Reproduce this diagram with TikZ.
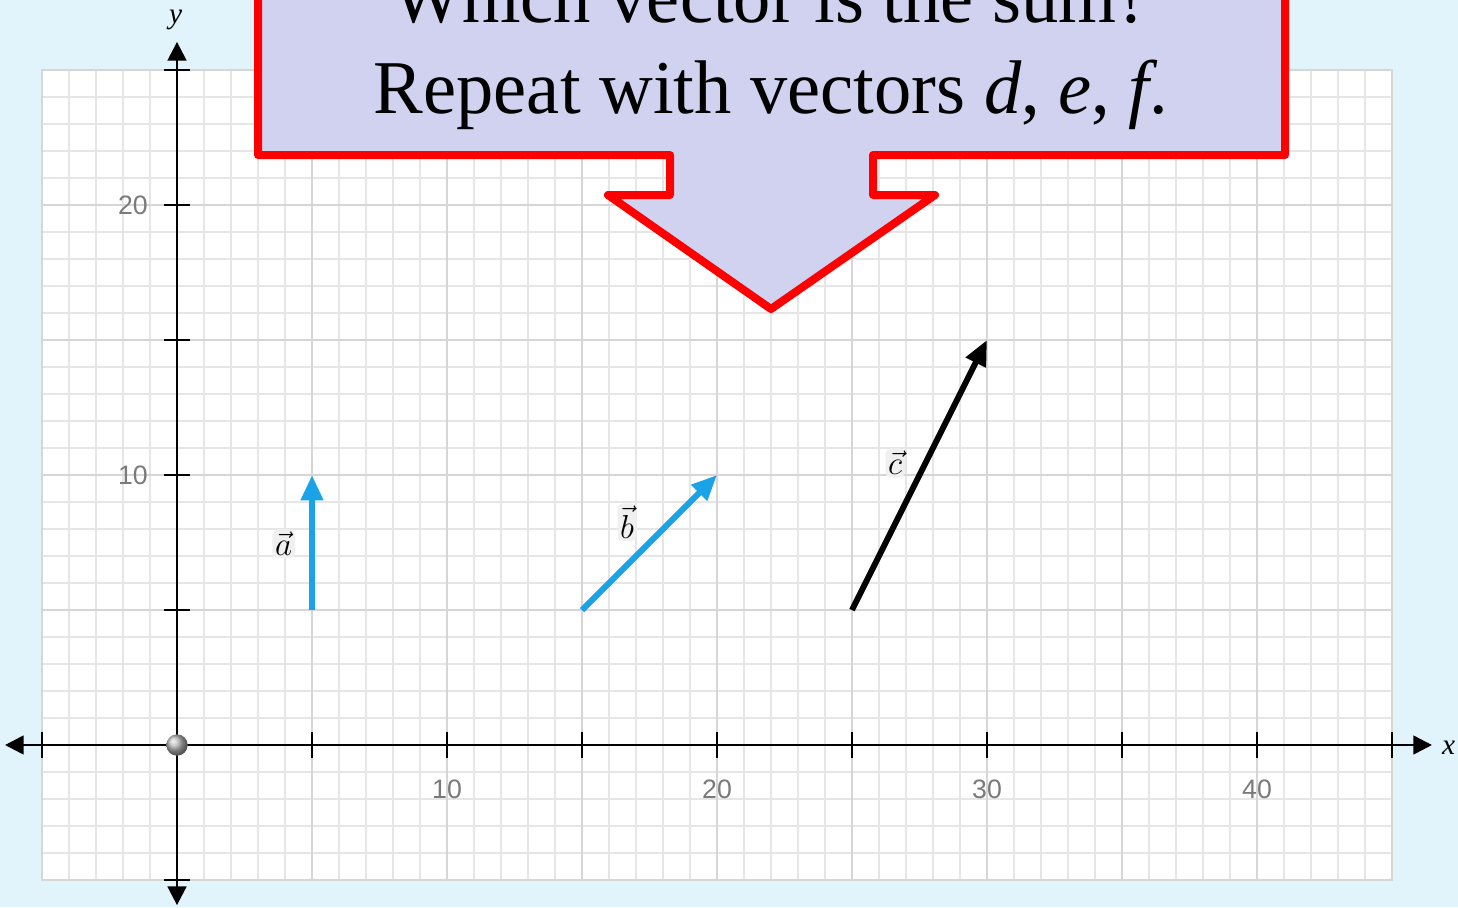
\documentclass[tikz,border=0pt]{standalone}
\usepackage{fontspec}
\setmainfont{Liberation Serif}
\newfontfamily\labfont{Liberation Sans}
\usetikzlibrary{arrows.meta}
\definecolor{bgblue}{HTML}{E1F4FC}
\definecolor{minorgrid}{HTML}{E6E6E6}
\definecolor{majorgrid}{HTML}{D6D6D6}
\definecolor{vecblue}{HTML}{1BA3E8}
\definecolor{calloutfill}{HTML}{D1D1F0}
\definecolor{ticklab}{HTML}{7A7A7A}
\definecolor{labbox}{HTML}{F0F0F0}
\tikzset{
  minorline/.style={draw=minorgrid, line width=1.5pt},
  majorline/.style={draw=majorgrid, line width=2pt},
  axisline/.style={line width=2pt, black, {Triangle[length=14pt,width=14pt]}-{Triangle[length=14pt,width=14pt]}},
  tickline/.style={line width=1.6pt, black},
  vecarrow/.style={line width=4.5pt, -{Triangle[length=19pt,width=16pt]}},
  ticklabel/.style={font=\labfont\fontsize{20}{22}\selectfont, text=ticklab},
  veclabel/.style={fill=labbox, rounded corners=4pt, inner sep=2pt, font=\fontsize{27}{30}\selectfont},
  axislabel/.style={font=\itshape\fontsize{22}{24}\selectfont},
  callout/.style={draw=red, fill=calloutfill, line width=6pt, line join=round},
  bigtext/.style={font=\fontsize{57}{68}\selectfont, anchor=base, xscale=0.98}
}
\begin{document}
\begin{tikzpicture}[x=0.75pt,y=-0.75pt]
\fill[bgblue] (0,0) rectangle (1458,907);
\useasboundingbox (0,0) rectangle (1458,907);
\begin{scope}[shift={(177,745)}, x=20.25pt, y=20.25pt]
  \fill[white] (-5,-5) rectangle (45,25);
  \draw[minorline] (-5,-5) grid[step=1] (45,25);
  \draw[majorline] (-5,-5) grid[step=5] (45,25);
  \draw[majorgrid, line width=2.2pt] (-5,-5) rectangle (45,25);
  % axes
  \coordinate (xl) at (-6.37,0);
  \coordinate (xr) at (46.48,0);
  \coordinate (yb) at (0,-5.93);
  \coordinate (yt) at (0,26.04);
  \draw[axisline] (xl) -- (xr);
  \draw[axisline] (yb) -- (yt);
  \foreach \t in {-5,5,10,15,20,25,30,35,40,45}
    \draw[tickline] (\t,-0.48) -- (\t,0.48);
  \foreach \t in {-5,5,10,15,20,25}
    \draw[tickline] (-0.48,\t) -- (0.48,\t);
  \foreach \t in {10,20,30,40}
    \node[ticklabel] (xt\t) at (\t,-1.63) {\t};
  \foreach \t in {10,20}
    \node[ticklabel] (yt\t) at (-1.63,\t) {\t};
  \node[axislabel] (xlab) at (47.1,-0.1) {x};
  \node[axislabel] (ylab) at (-0.05,26.85) {y};
  % origin ball
  \shade[ball color=gray!55] (0,0) circle (8pt);
  % vectors
  \coordinate (a0) at (5,5);  \coordinate (a1) at (5,10);
  \coordinate (b0) at (15,5); \coordinate (b1) at (20,10);
  \coordinate (c0) at (25,5); \coordinate (c1) at (30,15);
  \draw[vecarrow, vecblue] (a0) -- (a1);
  \draw[vecarrow, vecblue] (b0) -- (b1);
  \draw[vecarrow, black] (c0) -- (c1);
  \node[veclabel] (la) at (3.95,7.45) {$\vec{a}$};
  \node[veclabel] (lb) at (16.67,8.25) {$\vec{b}$};
  \node[veclabel] (lc) at (26.6,10.45) {$\vec{c}$};
\end{scope}
% callout
\draw[callout] (258,-20) -- (258,155) -- (670,155) -- (670,195) -- (608,195)
  -- (771,309) -- (935,195) -- (873,195) -- (873,155) -- (1285,155)
  -- (1285,-20) -- cycle;
\node[bigtext] (l1) at (771,22) {Which vector is the sum?};
\node[bigtext] (l2) at (771,113) {Repeat with vectors \textit{d}, \textit{e}, \textit{f}.};
\end{tikzpicture}
\end{document}
